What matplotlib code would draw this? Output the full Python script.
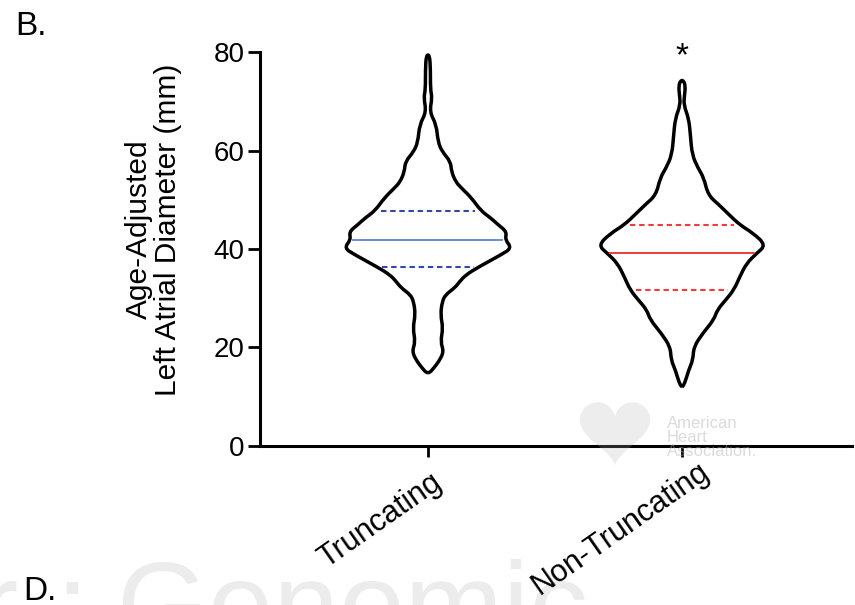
import numpy as np
import matplotlib
matplotlib.use('Agg')
import matplotlib.pyplot as plt
from matplotlib.patches import Polygon, PathPatch
from matplotlib.path import Path
from matplotlib.transforms import offset_copy

plt.rcParams['font.family'] = ['Liberation Sans', 'DejaVu Sans']

# Violin outlines: y value (mm) and relative half-width (0..1)
trunc_y = [14.8, 15.8, 17.1, 19.1, 21.1, 23.9, 26.6, 29.3, 30.7, 32.1, 33.4, 34.7,
           36.3, 38.8, 40.2, 41.9, 43.5, 44.9, 46.3, 47.8, 50.4, 52.4, 53.7, 55.8,
           57.8, 59.8, 61.8, 65.3, 67.9, 70.8, 72.4, 76.5, 79.5]
trunc_w = [0.02, 0.07, 0.13, 0.19, 0.15, 0.18, 0.15, 0.17, 0.21, 0.32, 0.38, 0.45,
           0.60, 0.87, 1.00, 0.92, 0.94, 0.84, 0.75, 0.63, 0.52, 0.40, 0.33, 0.28,
           0.27, 0.17, 0.12, 0.10, 0.02, 0.05, 0.03, 0.03, 0.02]

nontrunc_y = [12.0, 15.4, 17.4, 20.1, 22.9, 25.6, 27.6, 29.6, 31.7, 34.4, 37.1, 39.1,
              40.8, 43.2, 44.9, 47.0, 49.0, 51.0, 54.5, 56.5, 59.2, 63.2, 66.6, 69.3,
              71.4, 73.0, 74.3]
nontrunc_w = [0.02, 0.08, 0.13, 0.14, 0.25, 0.38, 0.42, 0.52, 0.62, 0.69, 0.77, 0.89,
              1.00, 0.85, 0.69, 0.56, 0.44, 0.31, 0.26, 0.19, 0.12, 0.10, 0.08, 0.02,
              0.03, 0.04, 0.02]

groups = ['Truncating', 'Non-Truncating']
medians = [41.8, 39.1]
q1 = [36.4, 31.7]
q3 = [47.8, 44.9]
line_colors = ['#6f8ad6', '#f03c3c']
dash_colors = ['#3548a8', '#f03c3c']


def smooth_loop(pts):
    # quadratic bezier through the midpoints, using the read points as controls
    n = len(pts)
    mids = (pts + np.roll(pts, -1, axis=0)) / 2
    verts = [mids[-1]]
    codes = [Path.MOVETO]
    for k in range(n):
        verts += [pts[k], mids[k]]
        codes += [Path.CURVE3, Path.CURVE3]
    return Path(verts, codes)


fig = plt.figure(figsize=(8.55, 6.05), dpi=100)
ax = fig.add_axes([260 / 855, 1 - 445.5 / 605, 592 / 855, 393 / 605])

half_max = 0.33
outlines = [(trunc_y, trunc_w), (nontrunc_y, nontrunc_w)]
for i, (ys, ws) in enumerate(outlines):
    pos = i + 1
    ys = np.array(ys)
    ws = np.array(ws) * half_max
    xy = np.concatenate([np.column_stack([pos + ws, ys]),
                         np.column_stack([pos - ws[::-1], ys[::-1]])])
    ax.add_patch(PathPatch(smooth_loop(xy), facecolor='white', edgecolor='black',
                           lw=2.5, joinstyle='round', zorder=3))
    wm = np.interp(medians[i], ys, ws) - 0.012
    ax.plot([pos - wm, pos + wm], [medians[i]] * 2, color=line_colors[i], lw=1.4, zorder=4)
    for q in (q1[i], q3[i]):
        wq = np.interp(q, ys, ws) - 0.022
        ax.plot([pos - wq, pos + wq], [q, q], color=dash_colors[i], lw=1.5,
                ls=(0, (2.6, 1.8)), zorder=4)

# significance mark
ax.text(2, 79.2, '*', ha='center', va='center', fontsize=24, clip_on=False)

ax.set_xlim(0.339, 2.669)
ax.set_ylim(0, 80)
ax.set_yticks([0, 20, 40, 60, 80])
ax.set_xticks([1, 2])
ax.set_xticklabels([])
ax.tick_params(axis='y', labelsize=20, length=9, width=2, pad=2)
ax.tick_params(axis='x', length=8, width=2)
for s in ['top', 'right']:
    ax.spines[s].set_visible(False)
for s in ['left', 'bottom']:
    ax.spines[s].set_linewidth(2.2)

# rotated category labels (offsets in px, as laid out in the figure)
label_shift = [(2, -22), (16, -11)]
for i, name in enumerate(groups):
    tr = offset_copy(ax.get_xaxis_transform(), fig=fig, x=label_shift[i][0],
                     y=label_shift[i][1], units='dots')
    ax.text(i + 1, 0, name, transform=tr, rotation=35, rotation_mode='anchor',
            ha='right', va='top', fontsize=22)

ax.set_ylabel('Age-Adjusted\nLeft Atrial Diameter (mm)', fontsize=21.5, linespacing=1.05)
ax.yaxis.set_label_coords(-0.132, 0.55)

# panel letters
fig.text(15 / 855, 1 - 35 / 605, 'B.', fontsize=24)
fig.text(23 / 855, 1 - 600 / 605, 'D.', fontsize=24, zorder=5)

# faint background marks from the source page
wm_color = '#ececec'
fig.text(-21 / 855, 1 - 645 / 605, 'r', fontsize=85, color=wm_color, zorder=-1)
fig.text(55 / 855, 1 - 645 / 605, ':', fontsize=85, color=wm_color, zorder=-1)
fig.text(116 / 855, 1 - 645 / 605, 'Genomic', fontsize=85, color=wm_color, zorder=-1)
t = np.linspace(0, 2 * np.pi, 200)
hx = 615 + 2.2 * 16 * np.sin(t) ** 3
hy = 402 + 2.2 * (12 - (13 * np.cos(t) - 5 * np.cos(2 * t) - 2 * np.cos(3 * t) - np.cos(4 * t)))
heart = Polygon(np.column_stack([hx / 855, 1 - hy / 605]), closed=True,
                transform=fig.transFigure, facecolor='#b0b0b0', edgecolor='none',
                alpha=0.22, zorder=2)
fig.patches.append(heart)
fig.text(667 / 855, 1 - 456 / 605, 'American\nHeart\nAssociation.', fontsize=12,
         color='#b0b0b0', alpha=0.45, linespacing=0.92, zorder=2)

fig.savefig('out.png', dpi=100)
